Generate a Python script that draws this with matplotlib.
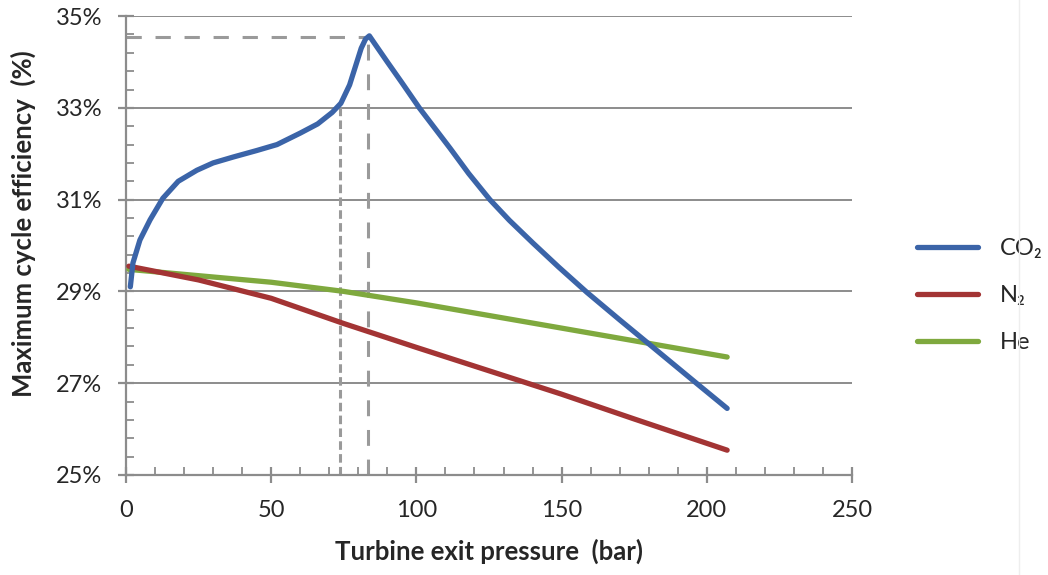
import matplotlib
matplotlib.use("Agg")
import matplotlib.pyplot as plt
from matplotlib.ticker import MultipleLocator, FuncFormatter
from matplotlib.lines import Line2D

plt.rcParams['font.family'] = ['Lato', 'DejaVu Sans']

# CO2 curve (bar, %)
co2_p = [1.5, 2.4, 4.8, 8.3, 12.7, 18, 24.4, 30, 37, 45, 52, 60, 66, 71, 74,
         77, 79, 81, 82.5, 83.8, 85.2, 90, 95, 101, 111.6, 118, 125.3,
         132, 140.2, 149, 158.7, 170, 181.5, 196.6, 207]
co2_eff = [29.1, 29.62, 30.12, 30.56, 31.03, 31.4, 31.64, 31.8, 31.93, 32.07,
           32.2, 32.45, 32.65, 32.9, 33.1, 33.5, 33.9, 34.3, 34.5, 34.57,
           34.44, 34.0, 33.55, 33.0, 32.12, 31.57, 31.0, 30.55, 30.05,
           29.53, 28.98, 28.38, 27.78, 26.99, 26.45]

n2_p = [1, 25, 50, 75, 100, 125, 150, 175, 207]
n2_eff = [29.55, 29.25, 28.85, 28.3, 27.78, 27.27, 26.76, 26.22, 25.54]

he_p = [1, 50, 75, 100, 150, 207]
he_eff = [29.48, 29.2, 29.0, 28.75, 28.2, 27.57]

# reference markers: critical pressure and pressure at peak
p_crit = 73.8
p_peak = 83.3
eff_crit = 33.1
eff_peak = 34.55

blue = '#3B64A8'
red = '#A33434'
green = '#7FA93E'
grid_col = '#8c8c8c'
dash_col = '#9a9a9a'
txt_col = '#262626'

fig = plt.figure(figsize=(10.48, 5.75), dpi=100)
ax = fig.add_axes([0.1202, 0.174, 0.6928, 0.798])

ax.plot([0, p_peak], [eff_peak, eff_peak], color=dash_col, lw=2.2,
        dashes=(5.0, 4.5))
ax.plot([p_peak, p_peak], [25, eff_peak], color=dash_col, lw=2.2,
        dashes=(5.2, 4.5))
ax.plot([p_crit, p_crit], [25, eff_crit], color=dash_col, lw=2.2,
        dashes=(2.8, 1.4))

ax.plot(co2_p, co2_eff, color=blue, lw=3.8, solid_capstyle='round',
        solid_joinstyle='round', label='CO₂', zorder=5)
ax.plot(n2_p, n2_eff, color=red, lw=3.8, solid_capstyle='round',
        solid_joinstyle='round', label='N₂', zorder=4)
ax.plot(he_p, he_eff, color=green, lw=3.8, solid_capstyle='round',
        solid_joinstyle='round', label='He', zorder=3)

ax.set_xlim(0, 250)
ax.set_ylim(25, 35)
ax.xaxis.set_major_locator(MultipleLocator(50))
ax.xaxis.set_minor_locator(MultipleLocator(10))
ax.yaxis.set_major_locator(MultipleLocator(2, offset=1))
ax.yaxis.set_minor_locator(MultipleLocator(0.4, offset=0.2))
ax.yaxis.set_major_formatter(FuncFormatter(lambda v, pos: f"{v:.0f}%"))

ax.grid(axis='y', which='major', color=grid_col, lw=1.4)
ax.set_axisbelow(True)
for s in ['top', 'right']:
    ax.spines[s].set_visible(False)
for s in ['left', 'bottom']:
    ax.spines[s].set_color(grid_col)
    ax.spines[s].set_linewidth(1.6)

ax.tick_params(which='major', direction='inout', length=12, width=1.6,
               color=grid_col, labelsize=17, labelcolor=txt_col)
ax.tick_params(axis='y', which='major', pad=11)
ax.tick_params(axis='x', which='major', pad=12)
ax.tick_params(which='minor', direction='in', length=6, width=1.3,
               color=grid_col)

ax.set_xlabel('Turbine exit pressure  (bar)', fontsize=18.5,
              fontweight='bold', color=txt_col)
ax.set_ylabel('Maximum cycle efficiency  (%)', fontsize=18.5,
              fontweight='bold', color=txt_col)
ax.xaxis.set_label_coords(0.5, -0.138)
ax.yaxis.set_label_coords(-0.124, 0.547)

ax.legend(loc='center left', bbox_to_anchor=(1.0895, 0.391), frameon=False,
          fontsize=17, handlelength=2.6, handletextpad=0.9, labelspacing=1.1,
          borderpad=0, borderaxespad=0, labelcolor=txt_col)

fig.add_artist(Line2D([1019 / 1048, 1019 / 1048], [0, 1],
                      color='#eeeeee', lw=1))

fig.savefig('out.png', dpi=100)
